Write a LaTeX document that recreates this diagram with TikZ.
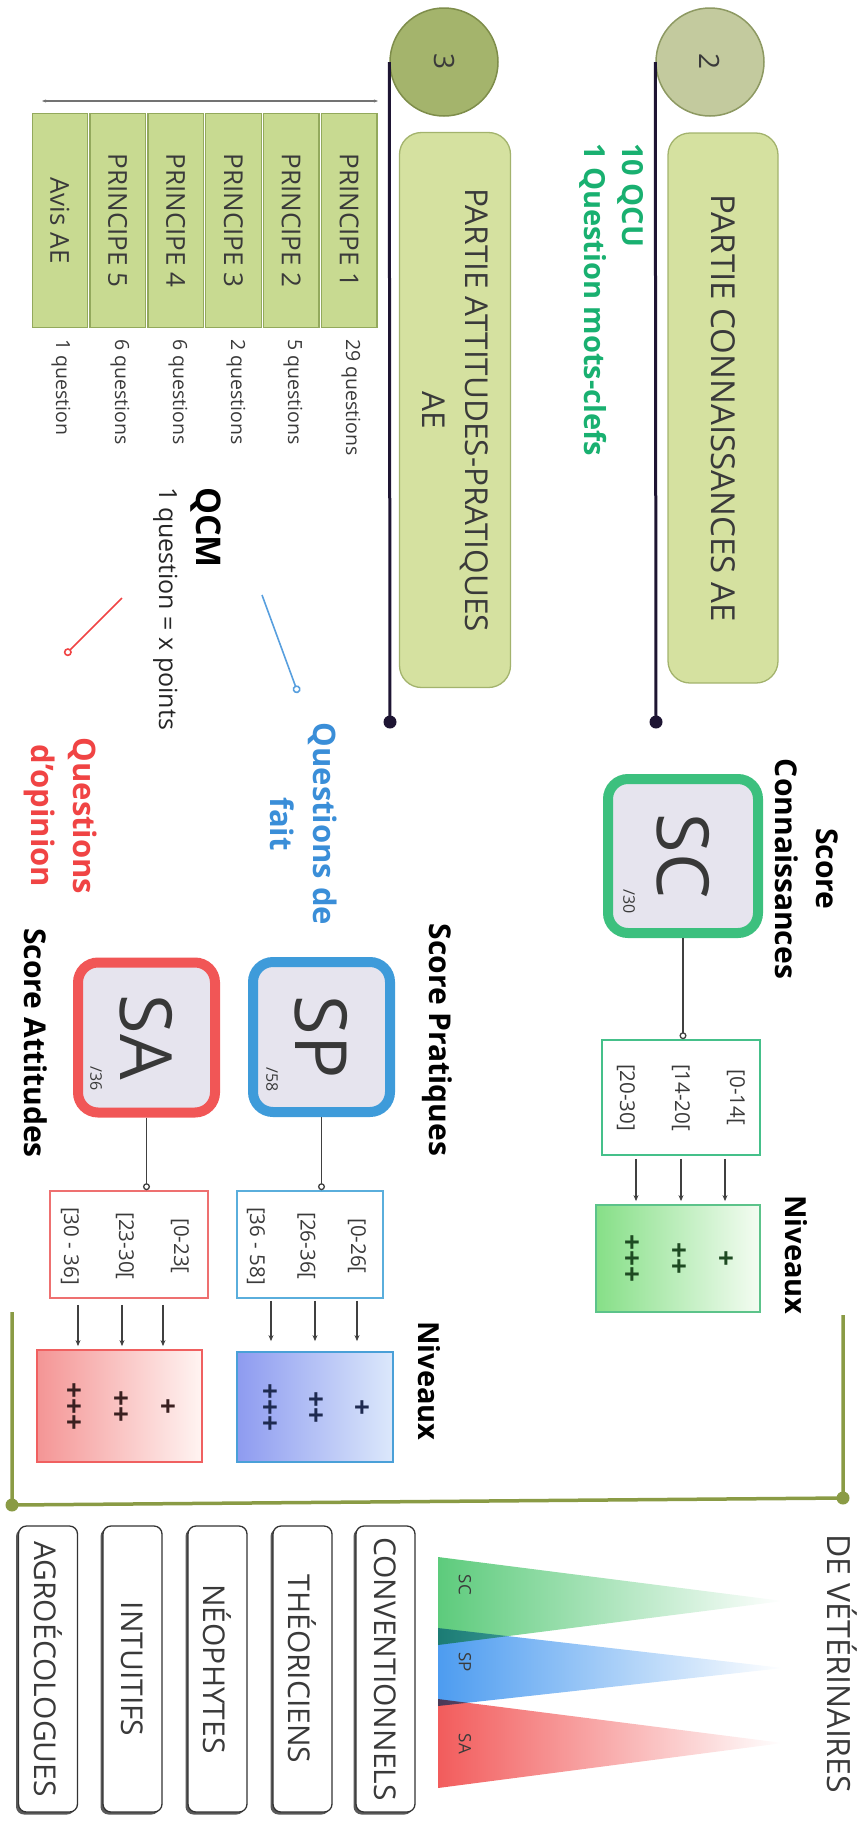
\documentclass[tikz,border=0pt]{standalone}
\usepackage{fontspec}
\setmainfont{Open Sans}
\usepackage{graphicx}
\usetikzlibrary{arrows.meta,shadows,calc}
\newcommand\myfs[2]{\fontsize{#1}{#2}\selectfont}
\definecolor{txtgray}{HTML}{3A3A3A}
\definecolor{ctwofill}{HTML}{C3CA9E}
\definecolor{ctwodraw}{HTML}{8D9962}
\definecolor{cthreefill}{HTML}{A4B46C}
\definecolor{cthreedraw}{HTML}{7E8D4A}
\definecolor{partfill}{HTML}{D5E1A0}
\definecolor{partdraw}{HTML}{A3B36D}
\definecolor{princfill}{HTML}{C8DA91}
\definecolor{princdraw}{HTML}{93A95C}
\definecolor{navyl}{HTML}{1E1533}
\definecolor{qcugreen}{HTML}{19B070}
\definecolor{scgreen}{HTML}{3CC07E}
\definecolor{spblue}{HTML}{3E9BDA}
\definecolor{sared}{HTML}{F15656}
\definecolor{scoreinner}{HTML}{E6E4EE}
\definecolor{qblue}{HTML}{3A8ED8}
\definecolor{qred}{HTML}{F04444}
\definecolor{rgreen}{HTML}{45C08A}
\definecolor{rblue}{HTML}{5AAEDC}
\definecolor{rred}{HTML}{EE7070}
\definecolor{ngreenA}{HTML}{86DF87}
\definecolor{ngreenB}{HTML}{F4FCF2}
\definecolor{nblueA}{HTML}{8E9BF0}
\definecolor{nblueB}{HTML}{DCE8FB}
\definecolor{nredA}{HTML}{F49595}
\definecolor{nredB}{HTML}{FFF4F2}
\definecolor{nbluedraw}{HTML}{4AA0D8}
\definecolor{nreddraw}{HTML}{F06060}
\definecolor{ngreendraw}{HTML}{5CC38A}
\definecolor{frameol}{HTML}{8A9B45}
\definecolor{tgreen}{HTML}{5DCB7C}
\definecolor{tblue}{HTML}{4D9CF0}
\definecolor{tred}{HTML}{F25C5C}
\definecolor{plusgreen}{HTML}{1E4A22}
\definecolor{plusblue}{HTML}{1E2A50}
\definecolor{plusred}{HTML}{3A2020}
\begin{document}
\begin{tikzpicture}[x=1pt,y=-1pt,
  txt/.style={inner sep=0pt, rotate=-90, text=txtgray},
  circ/.style={circle, minimum size=108pt, inner sep=0pt, line width=1.5pt, text=txtgray},
  partbox/.style={rounded corners=22pt, fill=partfill, draw=partdraw, line width=1.3pt, inner sep=0pt, text=txtgray},
  cell/.style={fill=princfill, draw=princdraw, line width=1.3pt, minimum width=55.5pt, minimum height=214pt, inner sep=0pt, text=txtgray},
  scorebox/.style={rounded corners=20pt, fill=scoreinner, line width=10pt, inner sep=0pt, text=black!78},
  rangebox/.style={fill=white, line width=1.6pt, inner sep=0pt},
  nivbox/.style={line width=1.8pt, inner sep=0pt},
  typebox/.style={draw=black!80, line width=1.3pt, fill=white, rounded corners=8pt, inner sep=0pt, minimum width=59pt, minimum height=286pt, text=txtgray, drop shadow={shadow xshift=-2.5pt, shadow yshift=-2.5pt, fill=black!65, opacity=1}},
  navyline/.style={line width=3pt, draw=navyl},
  thinlink/.style={line width=1.3pt, draw=black!75, -{Circle[open, length=7pt, width=7pt]}},
  arr/.style={line width=1.3pt, draw=black!75, -{Stealth[length=6pt, width=5pt]}},
  olivel/.style={line width=3.5pt, draw=frameol},
]
\useasboundingbox (0,0) rectangle (860,1821);

% ---- circles and timeline
\node[circ, fill=ctwofill, draw=ctwodraw] (n2) at (710,62) {\rotatebox{-90}{\myfs{28}{30}2}};
\node[circ, fill=cthreefill, draw=cthreedraw] (n3) at (444,62) {\rotatebox{-90}{\myfs{28}{30}3}};
\coordinate (e2) at (656,722);
\coordinate (e3) at (390,722);
\draw[navyline] (n2.west) -- (e2);
\draw[navyline] (n3.west) -- (e3);
\fill[navyl] (e2) circle[radius=6.5pt];
\fill[navyl] (e3) circle[radius=6.5pt];

% ---- parts
\node[partbox, minimum width=110pt, minimum height=550pt] (pc) at (723,408)
  {\rotatebox{-90}{\myfs{33}{36}PARTIE CONNAISSANCES AE}};
\node[partbox, minimum width=111pt, minimum height=555pt] (pa) at (455,410) {};
\node[txt, align=center, font=\myfs{31.5}{43}] (pat) at (pa.center) {PARTIE ATTITUDES-PRATIQUES\\AE};

\node[txt, anchor=north west, align=left, text=qcugreen, font=\bfseries\myfs{29}{38}] (qcu) at (644,143) {10 QCU\\1 Question mots-clefs};

% ---- principles table
\coordinate (bL) at (42,101);
\coordinate (bR) at (378,101);
\draw[line width=1.1pt, draw=black!55, {Stealth[length=4pt,width=3pt]}-{Stealth[length=4pt,width=3pt]}] (bL) -- (bR);
\node[cell] (avis) at (59.9,220.5) {\rotatebox{-90}{\myfs{26}{30}Avis AE}};
\node[cell] (p5) at (117.7,220.5) {\rotatebox{-90}{\myfs{26}{30}PRINCIPE 5}};
\node[cell] (p4) at (175.6,220.5) {\rotatebox{-90}{\myfs{26}{30}PRINCIPE 4}};
\node[cell] (p3) at (233.4,220.5) {\rotatebox{-90}{\myfs{26}{30}PRINCIPE 3}};
\node[cell] (p2) at (291.2,220.5) {\rotatebox{-90}{\myfs{26}{30}PRINCIPE 2}};
\node[cell] (p1) at (349.1,220.5) {\rotatebox{-90}{\myfs{26}{30}PRINCIPE 1}};
\node[txt, anchor=west, font=\myfs{19.5}{22}] (c1) at (351,339) {29 questions};
\node[txt, anchor=west, font=\myfs{19.5}{22}] (c2) at (293,339) {5 questions};
\node[txt, anchor=west, font=\myfs{19.5}{22}] (c3) at (236,339) {2 questions};
\node[txt, anchor=west, font=\myfs{19.5}{22}] (c4) at (178,339) {6 questions};
\node[txt, anchor=west, font=\myfs{19.5}{22}] (c5) at (120,339) {6 questions};
\node[txt, anchor=west, font=\myfs{19.5}{22}] (c6) at (61,339) {1 question};

\node[txt, anchor=base west, text=black, font=\bfseries\myfs{34}{40}] (qcm) at (196,487) {QCM};
\node[txt, anchor=base west, text=black!85, font=\myfs{25}{30}] (qcmt) at (159,487) {1 question = x points};

% ---- pointer lines
\coordinate (bl1) at (262,595);
\coordinate (bl2) at (298,693);
\coordinate (rl1) at (122,598);
\coordinate (rl2) at (65,655);
\draw[line width=1.6pt, draw=qblue!85, -{Circle[open, length=8pt, width=8pt]}] (bl1) -- (bl2);
\draw[line width=1.6pt, draw=qred, -{Circle[open, length=8pt, width=8pt]}] (rl1) -- (rl2);

\node[txt, align=center, text=qblue, font=\bfseries\myfs{31}{43}] (qfait) at (304,824) {Questions de\\fait};
\node[txt, align=center, text=qred, font=\bfseries\myfs{31}{42}] (qopin) at (61,816) {Questions\\d'opinion};

% ---- score labels
\node[txt, align=center, text=black, font=\bfseries\myfs{30}{41}] (lsc) at (807,869) {Score\\Connaissances};
\node[txt, text=black, font=\bfseries\myfs{30}{36}] (lsp) at (437,1040) {Score Pratiques};
\node[txt, text=black, font=\bfseries\myfs{30}{36}] (lsa) at (36,1043) {Score Attitudes};
\node[txt, text=black, font=\bfseries\myfs{29}{36}] (niv1) at (796,1255) {Niveaux};
\node[txt, text=black, font=\bfseries\myfs{29}{36}] (niv2) at (429,1381) {Niveaux};

% ---- score boxes
\node[scorebox, draw=scgreen, minimum width=150pt, minimum height=154pt] (SC) at (683,856) {\rotatebox{-90}{\myfs{72}{72}SC}};
\node[scorebox, draw=spblue, minimum width=137pt, minimum height=150pt] (SP) at (321.5,1037) {\rotatebox{-90}{\myfs{72}{72}SP}};
\node[scorebox, draw=sared, minimum width=137pt, minimum height=150pt] (SA) at (146.5,1037.5) {\rotatebox{-90}{\myfs{72}{72}SA}};
\node[txt, font=\myfs{16}{18}] (scmax) at (629,902) {/30};
\node[txt, font=\myfs{16}{18}] (spmax) at (272,1080) {/58};
\node[txt, font=\myfs{16}{18}] (samax) at (96,1079) {/36};

% ---- range boxes
\node[rangebox, draw=rgreen, minimum width=158pt, minimum height=115pt] (rSC) at (681,1097.5) {};
\node[rangebox, draw=rblue, minimum width=146pt, minimum height=107pt] (rSP) at (310,1244.5) {};
\node[rangebox, draw=rred, minimum width=158pt, minimum height=107pt] (rSA) at (129,1244.5) {};
\node[txt, align=center, font=\myfs{20.5}{55}] (tSC) at (rSC.center) {[0-14[\\{}[14-20[\\{}[20-30]};
\node[txt, align=center, font=\myfs{20.5}{50.5}] (tSP) at (306.5,1246) {[0-26[\\{}[26-36[\\{}[36 - 58]};
\node[txt, align=center, font=\myfs{20.5}{55}] (tSA) at (125,1246) {[0-23[\\{}[23-30[\\{}[30 - 36]};

\draw[thinlink] (SC.south) -- (SC.south |- rSC.north);
\draw[thinlink] (SP.south) -- (SP.south |- rSP.north);
\draw[thinlink] (SA.south) -- (SA.south |- rSA.north);

% ---- level boxes
\node[nivbox, draw=ngreendraw, left color=ngreenA, right color=ngreenB, minimum width=164pt, minimum height=107pt] (nSC) at (678,1258.5) {};
\node[nivbox, draw=nbluedraw, left color=nblueA, right color=nblueB, minimum width=156pt, minimum height=110pt] (nSP) at (315,1407) {};
\node[nivbox, draw=nreddraw, left color=nredA, right color=nredB, minimum width=165pt, minimum height=112pt] (nSA) at (119.5,1406) {};
\node[txt, align=center, text=plusgreen, font=\bfseries\myfs{28}{47}] (plSC) at (nSC.center) {+\\++\\+++};
\node[txt, align=center, text=plusblue, font=\bfseries\myfs{28}{46}] (plSP) at (nSP.center) {+\\++\\+++};
\node[txt, align=center, text=plusred, font=\bfseries\myfs{28}{47}] (plSA) at (nSA.center) {+\\++\\+++};

\foreach \dx in {44,0,-45}
  \draw[arr] ($(rSC.south)+(\dx,3)$) -- ($(rSC.south |- nSC.north)+(\dx,-3)$);
\foreach \dx in {47,5,-39}
  \draw[arr] ($(rSP.south)+(\dx,2)$) -- ($(rSP.south |- nSP.north)+(\dx,-10)$);
\foreach \dx in {34,-7,-51}
  \draw[arr] ($(rSA.south)+(\dx,6)$) -- ($(rSA.south |- nSA.north)+(\dx,-3)$);

% ---- frame
\coordinate (fTL) at (12,1312);
\coordinate (fBL) at (12,1505);
\coordinate (fBR) at (843,1498);
\coordinate (fTR) at (843,1315);
\draw[olivel] (fTL) -- (fBL) -- (fBR) -- (fTR);
\fill[frameol] (fBL) circle[radius=6.5pt];
\fill[frameol] (fBR) circle[radius=6.5pt];

% ---- triangles
\begin{scope}[blend group=multiply]
\shade[left color=tgreen, right color=white] (438,1557) -- (783,1601) -- (438,1645) -- cycle;
\shade[left color=tblue, right color=white] (438,1628) -- (783,1668) -- (438,1706) -- cycle;
\shade[left color=tred, right color=white] (438,1699) -- (783,1743) -- (438,1788) -- cycle;
\end{scope}
\node[txt, font=\myfs{17}{20}] (trSC) at (465,1585) {SC};
\node[txt, font=\myfs{17}{20}] (trSP) at (465,1662) {SP};
\node[txt, font=\myfs{17}{20}] (trSA) at (465,1744) {SA};

\node[txt, anchor=base west, font=\myfs{32}{40}] (titre) at (827,1534) {DE VÉTÉRINAIRES};

% ---- typology boxes
\node[typebox] (conv) at (385.5,1669) {\rotatebox{-90}{\myfs{30}{34}CONVENTIONNELS}};
\node[typebox] (theo) at (302.5,1669) {\rotatebox{-90}{\myfs{30}{34}THÉORICIENS}};
\node[typebox] (neo) at (217.5,1669) {\rotatebox{-90}{\myfs{30}{34}NÉOPHYTES}};
\node[typebox] (intu) at (132.5,1669) {\rotatebox{-90}{\myfs{30}{34}INTUITIFS}};
\node[typebox] (agro) at (48,1669) {\rotatebox{-90}{\myfs{30}{34}AGROÉCOLOGUES}};
\end{tikzpicture}
\end{document}
